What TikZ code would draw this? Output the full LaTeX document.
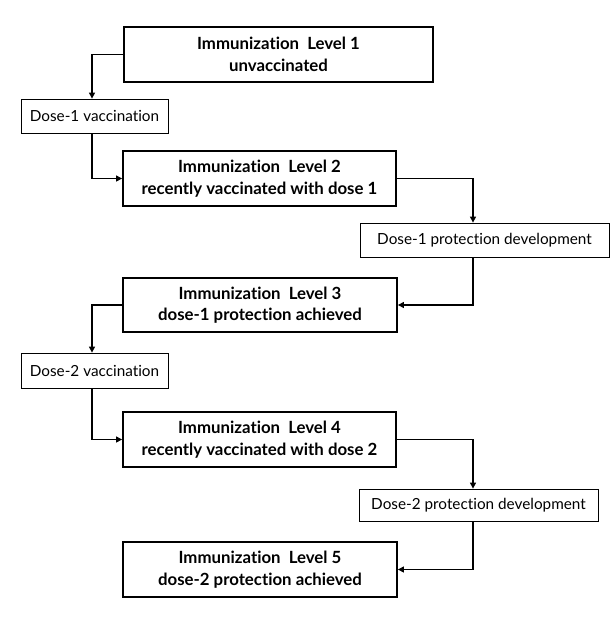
\documentclass[tikz,border=0pt]{standalone}
\usepackage{fontspec}
\setmainfont{Lato}[Ligatures=NoCommon]
\usetikzlibrary{arrows.meta}
\tikzset{
  level/.style={draw, line width=1.8pt, align=center, inner sep=0pt,
    font=\fontsize{16.8}{21.5}\selectfont\bfseries},
  proc/.style={draw, line width=0.8pt, align=center, inner sep=0pt,
    font=\fontsize{15.3}{18}\selectfont},
  arr/.style={line width=1.1pt, -{Triangle[length=6pt,width=6pt]}}
}
\begin{document}
\begin{tikzpicture}[x=1pt,y=-1pt]
\useasboundingbox (0,0) rectangle (612,623);
\node[level, minimum width=309pt, minimum height=55pt] (L1) at (278.5,54.5) {Immunization\ \ Level 1\\unvaccinated};
\node[proc, minimum width=147pt, minimum height=34pt] (d1) at (94.5,116) {Dose-1 vaccination};
\node[level, minimum width=273pt, minimum height=55pt] (L2) at (259.5,178.5) {Immunization\ \ Level 2\\recently vaccinated with dose 1};
\node[proc, minimum width=249pt, minimum height=34pt] (p1) at (484.5,240) {Dose-1 protection development};
\node[level, minimum width=274pt, minimum height=54pt] (L3) at (260,305) {Immunization\ \ Level 3\\dose-1 protection achieved};
\node[proc, minimum width=147pt, minimum height=35pt] (d2) at (94.5,370.5) {Dose-2 vaccination};
\node[level, minimum width=273pt, minimum height=55pt] (L4) at (259.5,439.5) {Immunization\ \ Level 4\\recently vaccinated with dose 2};
\node[proc, minimum width=239pt, minimum height=32pt] (p2) at (478.5,505) {Dose-2 protection development};
\node[level, minimum width=274pt, minimum height=55pt] (L5) at (260,569.5) {Immunization\ \ Level 5\\dose-2 protection achieved};

\draw[arr] (L1.west) -| ([xshift=-2.5pt]d1.north);
\draw[arr] ([xshift=-2.5pt]d1.south) |- (L2.west);
\draw[arr] (L2.east) -| ([xshift=-11.5pt]p1.north);
\draw[arr] ([xshift=-11.5pt]p1.south) |- (L3.east);
\draw[arr] (L3.west) -| ([xshift=-2.5pt]d2.north);
\draw[arr] ([xshift=-2.5pt]d2.south) |- (L4.west);
\draw[arr] (L4.east) -| ([xshift=-5.5pt]p2.north);
\draw[arr] ([xshift=-5.5pt]p2.south) |- (L5.east);
\end{tikzpicture}
\end{document}
